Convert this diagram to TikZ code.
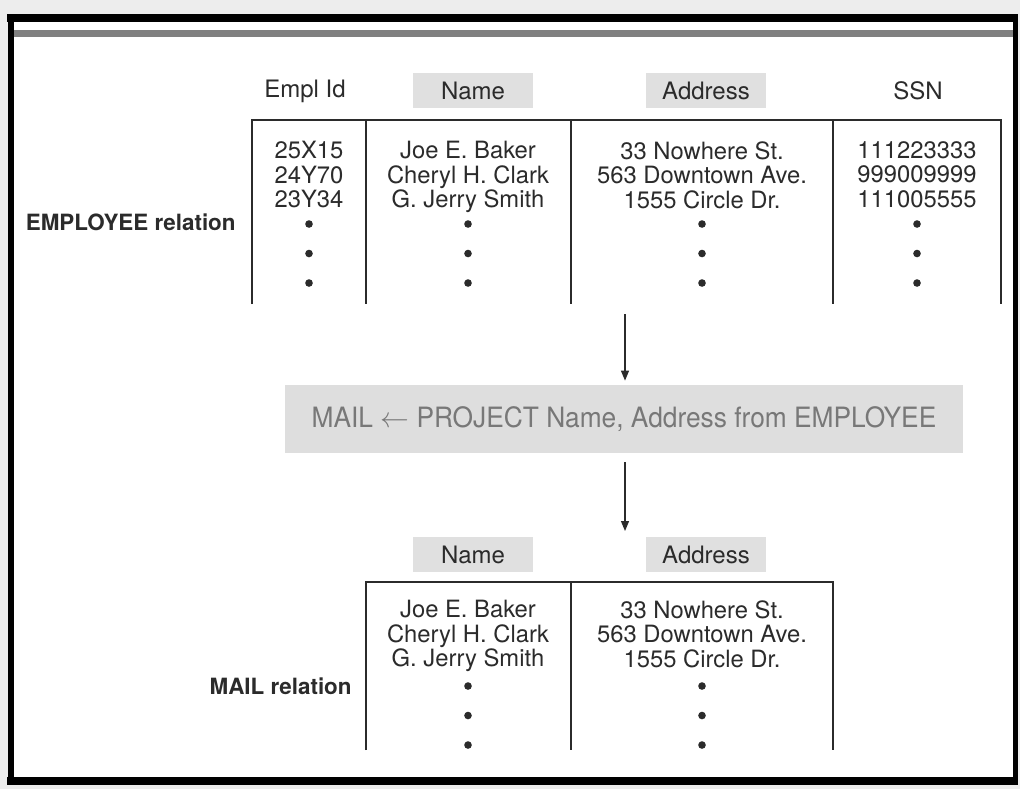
\documentclass[tikz,border=0pt]{standalone}
\usepackage{fontspec}
\setmainfont{TeX Gyre Heros}
\newfontfamily\condfont[FakeStretch=0.94]{TeX Gyre Heros}
\usetikzlibrary{arrows.meta,positioning}
\definecolor{ink}{HTML}{2B2B2B}
\definecolor{shade}{HTML}{E0E0E0}
\definecolor{opfill}{HTML}{DEDEDE}
\definecolor{optext}{HTML}{787878}
\definecolor{margin}{HTML}{EDEDED}
\definecolor{band}{HTML}{808080}
\tikzset{
  hdr/.style={font=\fontsize{12}{13}\selectfont,text=ink,inner sep=0pt},
  shd/.style={hdr,fill=shade,minimum width=60pt,minimum height=17.5pt},
  cell/.style={font=\fontsize{11.9}{12.3}\selectfont,text=ink,align=center,inner sep=0pt,anchor=north},
  rel/.style={font=\fontsize{11.2}{13}\selectfont\bfseries,text=ink,anchor=east,inner sep=0pt},
  grid/.style={draw=ink,line width=0.7pt},
  op/.style={fill=opfill,text=optext,font=\condfont\fontsize{14}{16}\selectfont,minimum width=339pt,minimum height=34pt,inner sep=0pt},
  arr/.style={-{Triangle[length=5pt,width=4pt]},line width=0.6pt,color=ink}}

\begin{document}
\begin{tikzpicture}[x=0.5pt,y=-0.5pt]
\useasboundingbox (0,0) rectangle (1020,789);
% page and frame
\fill[margin] (0,0) rectangle (1020,789);
\fill[white] (11,18) rectangle (1015,781);
\draw[band,line width=3.5pt] (12,33.5) -- (1015,33.5);
\draw[black,line width=4pt] (7,18) -- (1018,18);
\draw[black,line width=4pt] (7,781) -- (1018,781);
\draw[black,line width=3pt] (11,16) -- (11,783);
\draw[black,line width=2.5pt] (1015,16) -- (1015,783);

% EMPLOYEE relation
\node[hdr] (hId) at (305,91) {Empl Id};
\node[shd] (hName) at (473,90.5) {Name};
\node[shd] (hAddr) at (706,90.5) {Address};
\node[hdr] (hSsn) at (918,91) {SSN};
\draw[grid] (252,304) -- (252,120) -- (1001,120) -- (1001,304);
\foreach \x in {366,571,833} \draw[grid] (\x,120) -- (\x,304);
\node[cell] (eId) at (309,141) {25X15\\24Y70\\23Y34};
\node[cell] (eName) at (468,141) {Joe E. Baker\\Cheryl H. Clark\\G. Jerry Smith};
\node[cell] (eAddr) at (702,141) {33 Nowhere St.\\563 Downtown Ave.\\1555 Circle Dr.};
\node[cell] (eSsn) at (917,141) {111223333\\999009999\\111005555};
\foreach \x in {309,468,702,917}
  \foreach \y in {224,253.5,283} \fill[ink] (\x,\y) circle (1.9pt);
\node[rel] (empRel) at (236,222) {EMPLOYEE relation};

% operation
\node[op] (proj) at (624,419) {MAIL $\leftarrow$ PROJECT Name, Address from EMPLOYEE};
\coordinate (tblOut) at (625,314);
\coordinate (mailIn) at (625,531);
\draw[arr,shorten >=2pt] (tblOut) -- (tblOut |- proj.north);
\draw[arr,shorten <=4.5pt] (mailIn |- proj.south) -- (mailIn);

% MAIL relation
\node[shd] (mName) at (473,554.5) {Name};
\node[shd] (mAddr) at (706,554.5) {Address};
\draw[grid] (366,750) -- (366,582) -- (833,582) -- (833,750);
\draw[grid] (571,582) -- (571,750);
\node[cell] (mNameCol) at (468,600) {Joe E. Baker\\Cheryl H. Clark\\G. Jerry Smith};
\node[cell] (mAddrCol) at (702,600) {33 Nowhere St.\\563 Downtown Ave.\\1555 Circle Dr.};
\foreach \x in {468,702}
  \foreach \y in {686,715.5,745} \fill[ink] (\x,\y) circle (1.9pt);
\node[rel] (mailRel) at (352,686) {MAIL relation};
\end{tikzpicture}
\end{document}
